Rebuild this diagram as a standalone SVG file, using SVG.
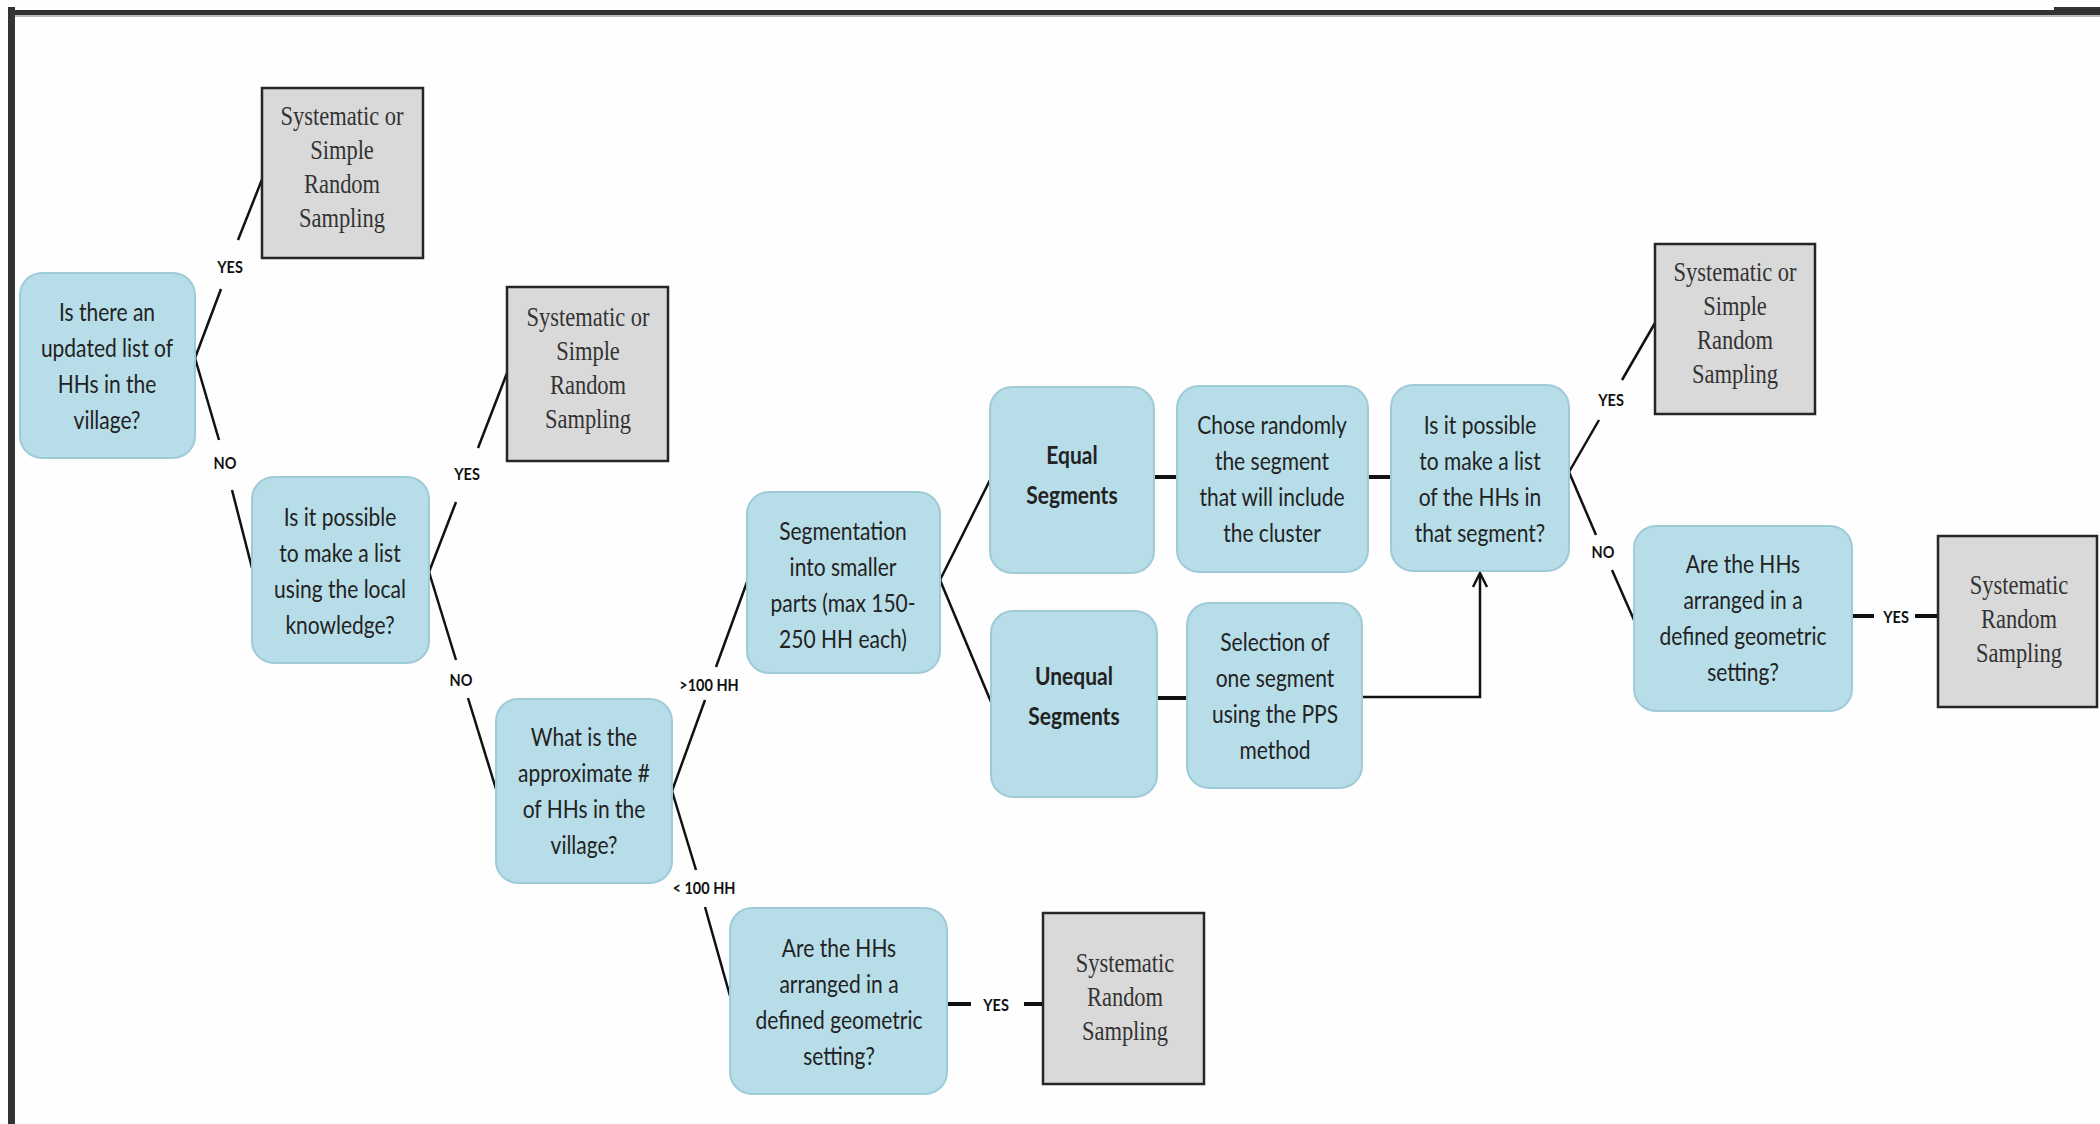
<svg xmlns="http://www.w3.org/2000/svg" width="2100" height="1124" viewBox="0 0 2100 1124">
<defs>
<style>
.q rect{fill:#b7dde8;stroke:#9fcbd8;stroke-width:2}
.q text{font-family:Lato,"Open Sans","DejaVu Sans",sans-serif;font-size:21px;fill:#222;text-anchor:middle}
.q text.b{font-weight:bold}
.r rect{fill:#d9d9d9;stroke:#262626;stroke-width:2.5}
.r text{font-family:"Liberation Serif","Times New Roman",serif;font-size:22.5px;fill:#333;text-anchor:middle}
#connectors line,#connectors polyline{stroke:#111;stroke-width:2.5;fill:none}
#connectors line.h{stroke-width:4}
.lbl{font-family:Lato,"Open Sans","DejaVu Sans",sans-serif;font-weight:bold;font-size:14.5px;fill:#111;text-anchor:middle}
</style>
</defs>
<rect x="0" y="0" width="2100" height="1124" fill="#fefefe"/>
<!-- frame -->
<rect x="8" y="7" width="7" height="1117" fill="#333"/>
<rect x="8" y="10" width="2046" height="5" fill="#333"/>
<rect x="2054" y="7" width="46" height="8" fill="#333"/>
<rect x="15" y="15" width="2085" height="2" fill="#bbb"/>

<g id="connectors">
<line x1="195" y1="358" x2="221" y2="289"/>
<line x1="238" y1="240" x2="263" y2="177"/>
<line x1="195" y1="358" x2="219" y2="440"/>
<line x1="232" y1="490" x2="252" y2="568"/>
<line x1="429" y1="572" x2="456" y2="502"/>
<line x1="478" y1="448" x2="507" y2="373"/>
<line x1="429" y1="572" x2="456" y2="660"/>
<line x1="468" y1="698" x2="496" y2="789"/>
<line x1="672" y1="791" x2="705" y2="700"/>
<line x1="716" y1="667" x2="747" y2="582"/>
<line x1="672" y1="791" x2="696" y2="870"/>
<line x1="705" y1="907" x2="730" y2="996"/>
<line class="h" x1="947" y1="1004" x2="971" y2="1004"/>
<line class="h" x1="1024" y1="1004" x2="1043" y2="1004"/>
<line x1="940" y1="580" x2="990" y2="480"/>
<line x1="940" y1="580" x2="991" y2="702"/>
<line class="h" x1="1154" y1="477" x2="1177" y2="477"/>
<line class="h" x1="1368" y1="477" x2="1391" y2="477"/>
<line class="h" x1="1157" y1="698" x2="1187" y2="698"/>
<polyline points="1362,697 1480,697 1480,574"/>
<polyline points="1473,587 1480,573 1487,587"/>
<line x1="1569" y1="472" x2="1599" y2="420"/>
<line x1="1622" y1="380" x2="1655" y2="323"/>
<line x1="1569" y1="472" x2="1596" y2="535"/>
<line x1="1612" y1="570" x2="1634" y2="620"/>
<line class="h" x1="1852" y1="616" x2="1874" y2="616"/>
<line class="h" x1="1915" y1="616" x2="1937" y2="616"/>
<text class="lbl" transform="translate(230,267) scale(1,1.2)" y="5">YES</text>
<text class="lbl" transform="translate(225,463) scale(1,1.2)" y="5">NO</text>
<text class="lbl" transform="translate(467,474) scale(1,1.2)" y="5">YES</text>
<text class="lbl" transform="translate(461,680) scale(1,1.2)" y="5">NO</text>
<text class="lbl" transform="translate(709,685) scale(1,1.2)" y="5">&gt;100 HH</text>
<text class="lbl" transform="translate(704,888) scale(1,1.2)" y="5">&lt; 100 HH</text>
<text class="lbl" transform="translate(996,1005) scale(1,1.2)" y="5">YES</text>
<text class="lbl" transform="translate(1611,400) scale(1,1.2)" y="5">YES</text>
<text class="lbl" transform="translate(1603,552) scale(1,1.2)" y="5">NO</text>
<text class="lbl" transform="translate(1896,617) scale(1,1.2)" y="5">YES</text>
</g>

<g id="q1" class="q">
<rect x="20" y="273" width="175" height="185" rx="22"/>
<text transform="translate(107,366) scale(1,1.2)"><tspan x="0" y="-37.5">Is there an</tspan><tspan x="0" y="-7.5">updated list of</tspan><tspan x="0" y="22.5">HHs in the</tspan><tspan x="0" y="52.5">village?</tspan></text>
</g>
<g id="r1" class="r">
<rect x="262" y="88" width="161" height="170"/>
<text transform="translate(342,167) scale(1,1.22)"><tspan x="0" y="-34.5">Systematic or</tspan><tspan x="0" y="-6.5">Simple</tspan><tspan x="0" y="21.5">Random</tspan><tspan x="0" y="49.5">Sampling</tspan></text>
</g>
<g id="q2" class="q">
<rect x="252" y="477" width="177" height="186" rx="22"/>
<text transform="translate(340,571) scale(1,1.2)"><tspan x="0" y="-37.5">Is it possible</tspan><tspan x="0" y="-7.5">to make a list</tspan><tspan x="0" y="22.5">using the local</tspan><tspan x="0" y="52.5">knowledge?</tspan></text>
</g>
<g id="r2" class="r">
<rect x="507" y="287" width="161" height="174"/>
<text transform="translate(588,368) scale(1,1.22)"><tspan x="0" y="-34.5">Systematic or</tspan><tspan x="0" y="-6.5">Simple</tspan><tspan x="0" y="21.5">Random</tspan><tspan x="0" y="49.5">Sampling</tspan></text>
</g>
<g id="q3" class="q">
<rect x="496" y="699" width="176" height="184" rx="22"/>
<text transform="translate(584,791) scale(1,1.2)"><tspan x="0" y="-37.5">What is the</tspan><tspan x="0" y="-7.5">approximate #</tspan><tspan x="0" y="22.5">of HHs in the</tspan><tspan x="0" y="52.5">village?</tspan></text>
</g>
<g id="q4" class="q">
<rect x="747" y="492" width="193" height="181" rx="22"/>
<text transform="translate(843,585) scale(1,1.2)"><tspan x="0" y="-37.5">Segmentation</tspan><tspan x="0" y="-7.5">into smaller</tspan><tspan x="0" y="22.5">parts (max 150-</tspan><tspan x="0" y="52.5">250 HH each)</tspan></text>
</g>
<g id="q5" class="q">
<rect x="990" y="387" width="164" height="186" rx="22"/>
<text class="b" transform="translate(1072,475) scale(1,1.2)"><tspan x="0" y="-9">Equal</tspan><tspan x="0" y="24">Segments</tspan></text>
</g>
<g id="q6" class="q">
<rect x="1177" y="386" width="191" height="186" rx="22"/>
<text transform="translate(1272,479) scale(1,1.2)"><tspan x="0" y="-37.5">Chose randomly</tspan><tspan x="0" y="-7.5">the segment</tspan><tspan x="0" y="22.5">that will include</tspan><tspan x="0" y="52.5">the cluster</tspan></text>
</g>
<g id="q7" class="q">
<rect x="1391" y="385" width="178" height="186" rx="22"/>
<text transform="translate(1480,479) scale(1,1.2)"><tspan x="0" y="-37.5">Is it possible</tspan><tspan x="0" y="-7.5">to make a list</tspan><tspan x="0" y="22.5">of the HHs in</tspan><tspan x="0" y="52.5">that segment?</tspan></text>
</g>
<g id="q8" class="q">
<rect x="991" y="611" width="166" height="186" rx="22"/>
<text class="b" transform="translate(1074,696) scale(1,1.2)"><tspan x="0" y="-9">Unequal</tspan><tspan x="0" y="24">Segments</tspan></text>
</g>
<g id="q9" class="q">
<rect x="1187" y="603" width="175" height="185" rx="22"/>
<text transform="translate(1275,696) scale(1,1.2)"><tspan x="0" y="-37.5">Selection of</tspan><tspan x="0" y="-7.5">one segment</tspan><tspan x="0" y="22.5">using the PPS</tspan><tspan x="0" y="52.5">method</tspan></text>
</g>
<g id="r3" class="r">
<rect x="1655" y="244" width="160" height="170"/>
<text transform="translate(1735,323) scale(1,1.22)"><tspan x="0" y="-34.5">Systematic or</tspan><tspan x="0" y="-6.5">Simple</tspan><tspan x="0" y="21.5">Random</tspan><tspan x="0" y="49.5">Sampling</tspan></text>
</g>
<g id="q10" class="q">
<rect x="1634" y="526" width="218" height="185" rx="22"/>
<text transform="translate(1743,618) scale(1,1.2)"><tspan x="0" y="-37.5">Are the HHs</tspan><tspan x="0" y="-7.5">arranged in a</tspan><tspan x="0" y="22.5">defined geometric</tspan><tspan x="0" y="52.5">setting?</tspan></text>
</g>
<g id="r4" class="r">
<rect x="1938" y="536" width="159" height="171"/>
<text transform="translate(2019,619) scale(1,1.22)"><tspan x="0" y="-20.5">Systematic</tspan><tspan x="0" y="7.5">Random</tspan><tspan x="0" y="35.5">Sampling</tspan></text>
</g>
<g id="q11" class="q">
<rect x="730" y="908" width="217" height="186" rx="22"/>
<text transform="translate(839,1002) scale(1,1.2)"><tspan x="0" y="-37.5">Are the HHs</tspan><tspan x="0" y="-7.5">arranged in a</tspan><tspan x="0" y="22.5">defined geometric</tspan><tspan x="0" y="52.5">setting?</tspan></text>
</g>
<g id="r5" class="r">
<rect x="1043" y="913" width="161" height="171"/>
<text transform="translate(1125,997) scale(1,1.22)"><tspan x="0" y="-20.5">Systematic</tspan><tspan x="0" y="7.5">Random</tspan><tspan x="0" y="35.5">Sampling</tspan></text>
</g>
</svg>
